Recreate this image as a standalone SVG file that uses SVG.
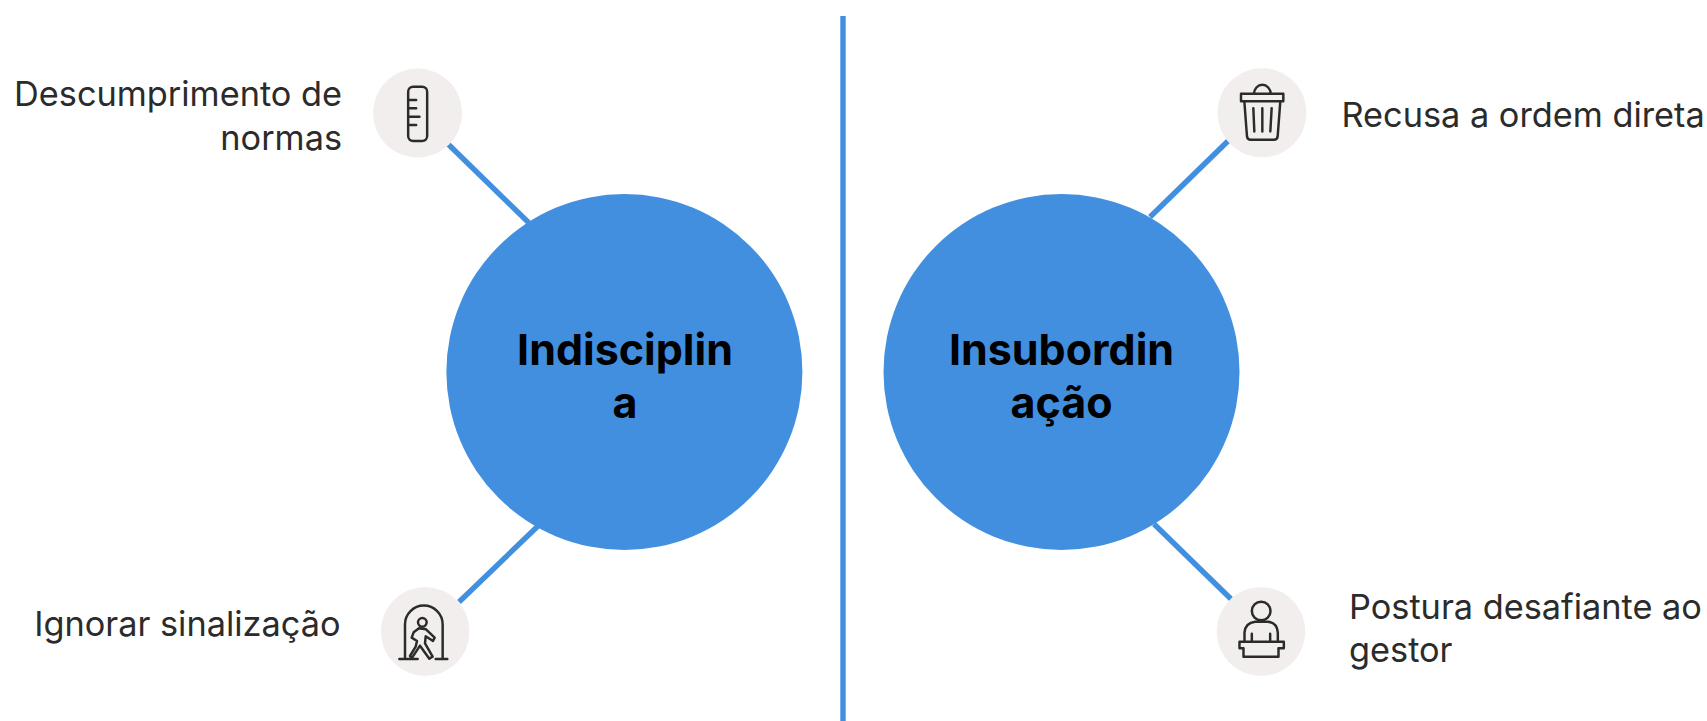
<svg xmlns="http://www.w3.org/2000/svg" width="1707" height="721" viewBox="0 0 1707 721">
<style>
.hub{fill:#428fe0}
.dot{fill:#f1eeed}
.conn{stroke:#428fe0;stroke-width:5.4;fill:none}
.lab{font-family:Inter,"Liberation Sans",sans-serif;font-size:34.3px;fill:#2b2b2b}
.ttl{font-family:Inter,"Liberation Sans",sans-serif;font-size:43px;font-weight:700;fill:#000;text-anchor:middle}
.ico{fill:none;stroke:#2b2b2b;stroke-width:7.4;stroke-linejoin:round;stroke-linecap:round}
</style>
<rect width="1707" height="721" fill="#fff"/>
<g id="connectors">
<line class="conn" x1="448" y1="144" x2="529" y2="223"/>
<line class="conn" x1="459" y1="602" x2="538" y2="526"/>
<line class="conn" x1="1228" y1="141" x2="1150" y2="217"/>
<line class="conn" x1="1154" y1="524" x2="1231" y2="599"/>
<line class="conn" x1="843" y1="16" x2="843" y2="721"/>
</g>
<g id="indisciplina"><circle class="hub" cx="624.4" cy="372" r="178"/><text class="ttl" x="625" y="365">Indisciplin</text><text class="ttl" x="625" y="418">a</text></g>
<g id="insubordinacao"><circle class="hub" cx="1061.5" cy="372" r="178"/><text class="ttl" x="1061.5" y="365">Insubordin</text><text class="ttl" x="1061.5" y="418">ação</text></g>
<g id="descumprimento"><circle class="dot" cx="417.6" cy="113" r="44.5"/>
<g class="ico" transform="translate(360.5 60) scale(.3333)"><rect x="143" y="80" width="57" height="163" rx="15"/><path d="M145 120H167M145 145H167M145 170H177M145 195H167"/></g>
<text class="lab" x="342" y="106" text-anchor="end">Descumprimento de</text><text class="lab" x="342" y="150" text-anchor="end">normas</text></g>
<g id="ignorar"><circle class="dot" cx="425.2" cy="631.5" r="44.3"/>
<g class="ico" transform="translate(370 575) scale(.3333)"><path d="M105 248V148A56 56 0 0 1 218 148V248M88 252H143M197 252H232"/><circle cx="157" cy="142" r="13"/><path d="M147 160L168 163L194 188L189 198L167 184L165 205L188 245L178 251L150 212L125 250L120 243L137 215L141 198L125 188L131 172Z"/></g>
<text class="lab" x="340.5" y="636" text-anchor="end">Ignorar sinalização</text></g>
<g id="recusa"><circle class="dot" cx="1262" cy="112.8" r="44.5"/>
<g class="ico" transform="translate(1205 60.5) scale(.3333)"><path d="M147 100A25 27 0 0 1 197 100"/><rect x="108" y="100" width="127" height="22"/><path d="M118 122L126 228Q127 238 137 238H207Q217 238 218 228L226 122M145 143L148 213M172 143V213M200 143L196 213"/></g>
<text class="lab" x="1341.5" y="127">Recusa a ordem direta</text></g>
<g id="postura"><circle class="dot" cx="1261" cy="631.5" r="44.3"/>
<g class="ico" transform="translate(1204.5 576) scale(.3333)"><circle cx="170" cy="105" r="28"/><path d="M120 197V170Q122 140 152 137H190Q218 140 220 170V197M142 173V197M197 173V197"/><path d="M105 197H238V217H222V242H117V217H105Z"/></g>
<text class="lab" x="1349" y="619">Postura desafiante ao</text><text class="lab" x="1349" y="662">gestor</text></g>
</svg>
